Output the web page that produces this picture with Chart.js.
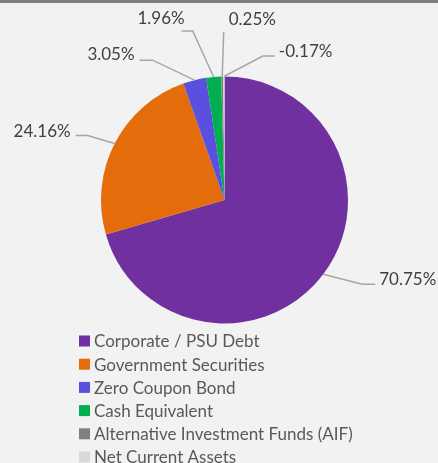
<!DOCTYPE html>
<html>
<head>
<meta charset="utf-8">
<script src="https://cdn.jsdelivr.net/npm/chart.js@4"></script>
<style>
  html, body { margin: 0; padding: 0; background: #f2f2f2; }
  #wrap { position: relative; width: 438px; height: 463px; overflow: hidden; }
  #topbar { position: absolute; left: 0; top: 0; width: 438px; height: 3px; background: #7f7f7f; }
</style>
</head>
<body>
<div id="wrap">
  <canvas id="holdings" width="438" height="463"></canvas>
  <div id="topbar"></div>
</div>
<script>
const categories = ['Corporate / PSU Debt', 'Government Securities', 'Zero Coupon Bond', 'Cash Equivalent', 'Alternative Investment Funds (AIF)', 'Net Current Assets'];
const shares = [70.75, 24.16, 3.05, 1.96, 0.25, -0.17];
const colors = ['#7030a0', '#e46c0a', '#5b4fe0', '#00b050', '#808080', '#d9d9d9'];

// leader line layout for each label: elbow offset from the slice edge, horizontal run, text offset
const labelLayout = [
  { dx: 39, dy: 10, run: 13, tx: 4, ty: 1, align: 'left' },
  { dx: -27, dy: -8, run: -12, tx: -5, ty: 1, align: 'right' },
  { dx: -42, dy: -20, run: -13, tx: -5, ty: 0, align: 'right' },
  { dx: -21, dy: -46, run: -11, tx: 3, ty: -7, align: 'right' },
  { dx: 1.5, dy: -44.5, run: 0, tx: 5, ty: -7, align: 'left' },
  { dx: 39, dy: -20.5, run: 12, tx: 4, ty: 1, align: 'left' },
];

const FONT = 'Lato';

const pieLabels = {
  id: 'pieLabels',
  afterDatasetsDraw(chart) {
    const ctx = chart.ctx;
    const meta = chart.getDatasetMeta(0);
    ctx.save();
    meta.data.forEach((arc, i) => {
      const p = arc.getProps(['x', 'y', 'startAngle', 'endAngle', 'outerRadius']);
      const mid = (p.startAngle + p.endAngle) / 2;
      const ex = p.x + Math.cos(mid) * p.outerRadius;
      const ey = p.y + Math.sin(mid) * p.outerRadius;
      const l = labelLayout[i];
      const bx = ex + l.dx, by = ey + l.dy;
      const cx = bx + l.run;
      ctx.strokeStyle = '#a6a6a6';
      ctx.lineWidth = 1.5;
      ctx.beginPath();
      ctx.moveTo(ex, ey);
      ctx.lineTo(bx, by);
      ctx.lineTo(cx, by);
      ctx.stroke();
      ctx.fillStyle = '#404040';
      ctx.font = '17px ' + FONT;
      ctx.textAlign = l.align;
      ctx.textBaseline = 'alphabetic';
      ctx.fillText(shares[i].toFixed(2) + '%', cx + l.tx, by + l.ty);
    });
    ctx.restore();
  }
};

const listLegend = {
  id: 'listLegend',
  afterDraw(chart) {
    const ctx = chart.ctx;
    ctx.save();
    ctx.font = '17px ' + FONT;
    ctx.textBaseline = 'middle';
    ctx.textAlign = 'left';
    chart.data.labels.forEach((name, i) => {
      const y = 341 + i * 23.2;
      ctx.fillStyle = chart.data.datasets[0].backgroundColor[i];
      ctx.fillRect(79, y - 5.5, 11, 11);
      ctx.fillStyle = '#595959';
      ctx.fillText(name, 94, y + 1);
    });
    ctx.restore();
  }
};

new Chart('holdings', {
  type: 'pie',
  data: {
    labels: categories,
    datasets: [{
      data: shares.map(v => Math.abs(v)),
      backgroundColor: colors,
      borderWidth: 0,
    }],
  },
  options: {
    responsive: false,
    animation: false,
    layout: { padding: { left: 101, right: 90, top: 76.5, bottom: 139.5 } },
    plugins: {
      legend: { display: false },
      tooltip: { enabled: false },
    },
  },
  plugins: [pieLabels, listLegend],
});
</script>
</body>
</html>
